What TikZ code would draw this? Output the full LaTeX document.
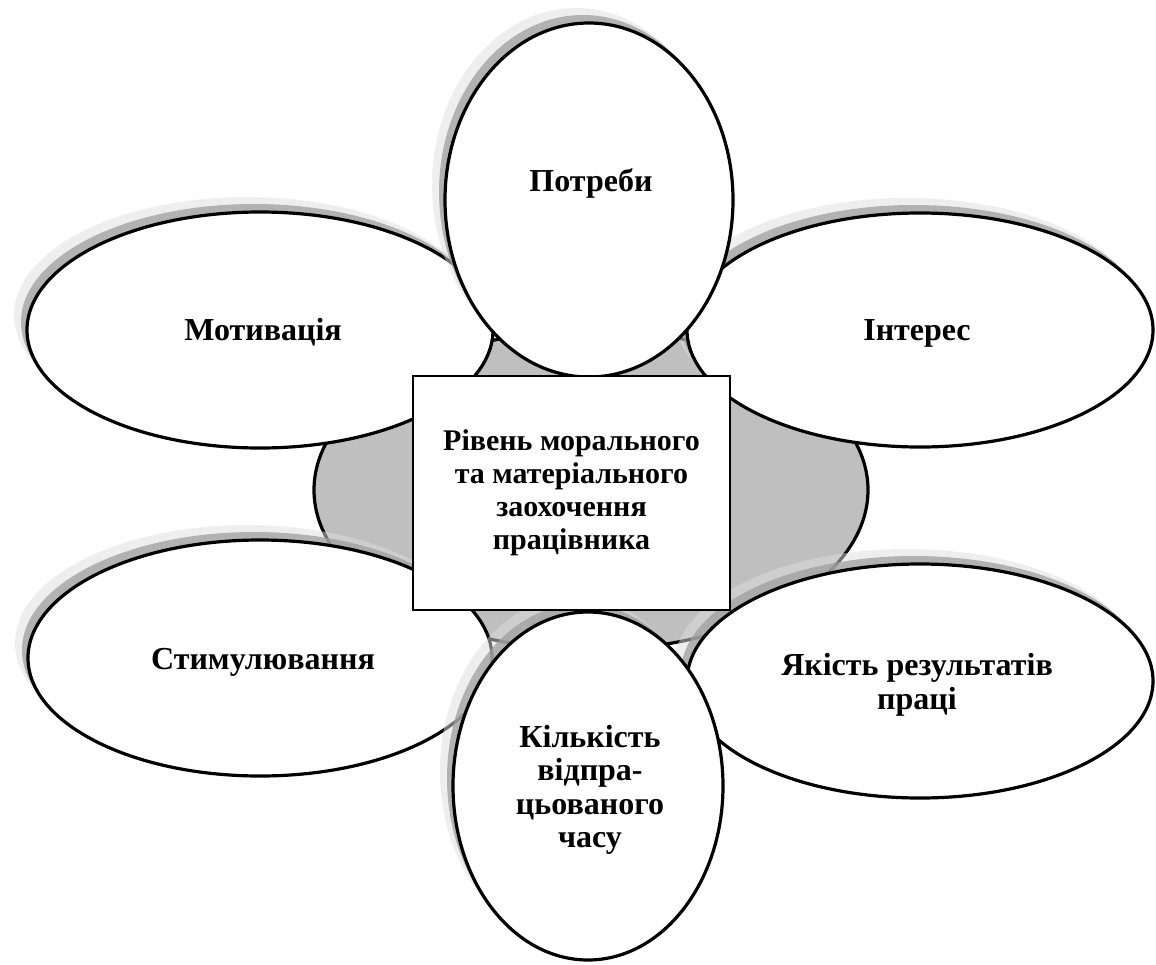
\documentclass[tikz,border=0pt]{standalone}
\usepackage{fontspec}
\setmainfont{Liberation Serif}
\usetikzlibrary{shapes.geometric}

\begin{document}
\begin{tikzpicture}[x=1pt,y=-1pt,
 petal/.style={ellipse,draw,line width=3.2pt,fill=white,inner sep=0pt},
 shlight/.style={fill=black!13,opacity=.5},
 shdark/.style={fill=black!38,opacity=.75},
 lbl/.style={align=center,font=\fontsize{32}{33.5}\selectfont\bfseries},
 hub/.style={draw,line width=2.2pt,fill=white,minimum width=317,minimum height=234,inner sep=0pt,
  align=center,font=\fontsize{30}{33}\selectfont\bfseries}]
\useasboundingbox (0,0) rectangle (1156,964);
\node[ellipse,draw,line width=3.2pt,fill=black!25,minimum width=554,minimum height=320] (core) at (591,490) {};
\foreach \nm/\cx/\cy/\rx/\ry in {mot/260/330/233/118,int/920/330/233/117,potr/589/200/144/177,stym/260/658/232/118,yak/920/681/233/117,kilk/588/786/135/174}{
 \fill[shlight] (\cx-13,\cy-15) ellipse [x radius=\rx pt,y radius=\ry pt];
 \fill[shdark] (\cx-6,\cy-8) ellipse [x radius=\rx pt,y radius=\ry pt];
 \node[petal,minimum width=2*\rx,minimum height=2*\ry] (\nm) at (\cx,\cy) {};
}
\node[hub] (hub) at (571.5,493) {Рівень морального\\та матеріального\\заохочення\\працівника};
\foreach \nm/\tx/\ty/\txt in {tmot/263/332/{Мотивація},tint/917/333/{Інтерес},tpotr/591/183/{Потреби},tstym/263/662/{Стимулювання},tyak/917/685/{Якість результатів\\праці},tkilk/590/790/{Кількість\\відпра-\\цьованого\\часу}}{
 \node[lbl] (\nm) at (\tx,\ty) {\txt};
}
\end{tikzpicture}
\end{document}
